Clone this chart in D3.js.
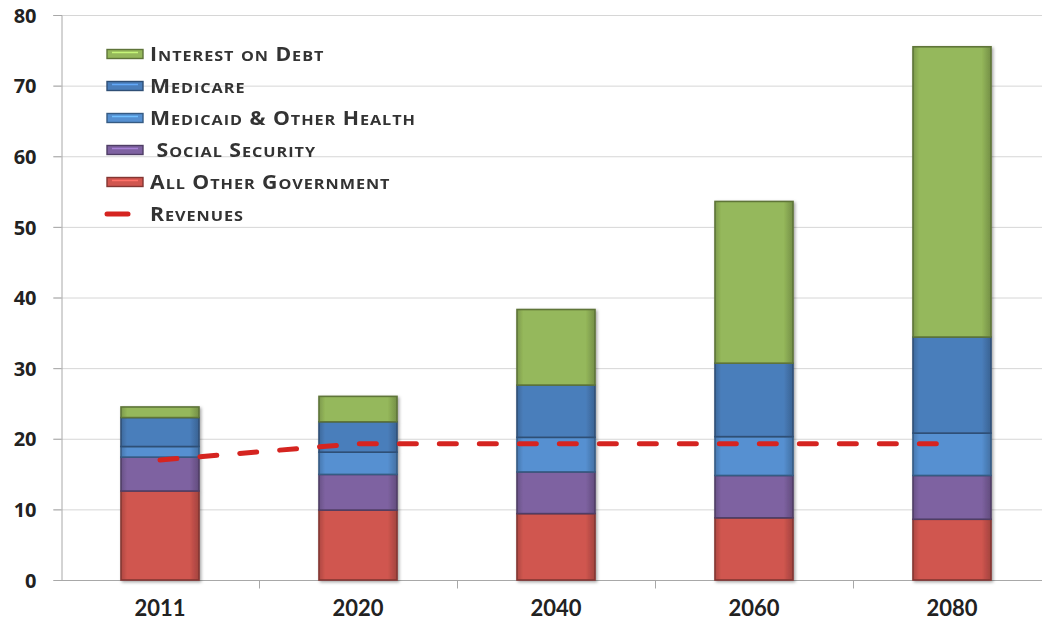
<!DOCTYPE html>
<html>
<head>
<meta charset="utf-8">
<script src="https://cdn.jsdelivr.net/npm/d3@7"></script>
<style>
  html, body { margin: 0; padding: 0; background: #ffffff; }
  svg { display: block; }
  .axis text { font-weight: 700; fill: #222222; }
  .legend text { font-family: "Open Sans", Lato, sans-serif; font-weight: 700; fill: #333333; white-space: pre; }
</style>
</head>
<body>
<svg id="chart" width="1042" height="632"></svg>
<script>
// Spending by category, % of GDP
const years = ["2011", "2020", "2040", "2060", "2080"];
const allOtherGovernment = [12.6, 9.9, 9.4, 8.8, 8.6];
const socialSecurity     = [4.8, 5.05, 5.9, 6.0, 6.2];
const medicaidOtherHealth = [1.5, 3.15, 4.9, 5.5, 6.0];
const medicare           = [4.1, 4.3, 7.4, 10.4, 13.6];
const interestOnDebt     = [1.5, 3.6, 10.7, 22.9, 41.1];
const revenues           = [17.0, 19.3, 19.3, 19.3, 19.3];
const yTicks = [0, 10, 20, 30, 40, 50, 60, 70, 80];

const seriesKeys = ["allOther", "socialSecurity", "medicaid", "medicare", "interest"];
const seriesLabels = {
  interest: "Interest on Debt",
  medicare: "Medicare",
  medicaid: "Medicaid & Other Health",
  socialSecurity: " Social Security",
  allOther: "All Other Government"
};
const colors = {
  allOther: "#d0564f",
  socialSecurity: "#7e62a1",
  medicaid: "#5690d1",
  medicare: "#4a7ebb",
  interest: "#95b85b"
};
const revenueColor = "#d52420";

const table = years.map((yr, i) => ({
  year: yr,
  allOther: allOtherGovernment[i],
  socialSecurity: socialSecurity[i],
  medicaid: medicaidOtherHealth[i],
  medicare: medicare[i],
  interest: interestOnDebt[i]
}));

const svg = d3.select("#chart");
const plotLeft = 61, plotRight = 1051, plotTop = 15, plotBottom = 580;

const x = d3.scaleBand().domain(years).range([plotLeft, plotRight]).paddingInner(0.606).paddingOuter(0.303);
const y = d3.scaleLinear().domain([0, 80]).range([plotBottom, plotTop]);

// Gridlines
svg.append("g")
  .selectAll("line")
  .data(yTicks.filter(t => t > 0))
  .join("line")
  .attr("x1", plotLeft - 8).attr("x2", 1042)
  .attr("y1", d => y(d) + 0.5).attr("y2", d => y(d) + 0.5)
  .attr("stroke", "#d6d6d6").attr("stroke-width", 1);

// Y axis
const yAxis = svg.append("g").attr("class", "axis")
  .attr("transform", `translate(${plotLeft + 0.5},0)`)
  .call(d3.axisLeft(y).tickValues(yTicks).tickSize(8).tickPadding(17));
yAxis.select(".domain").attr("stroke", "#a8a8a8");
yAxis.selectAll(".tick line").attr("stroke", "#a8a8a8");
yAxis.selectAll(".tick text")
  .attr("font-family", "'Open Sans', Lato, sans-serif")
  .attr("font-size", 20).attr("dy", "0.36em");

// X axis with ticks on category boundaries
const xAxisG = svg.append("g").attr("class", "axis")
  .attr("transform", `translate(0,${plotBottom + 0.5})`);
xAxisG.append("line").attr("x1", plotLeft).attr("x2", 1042).attr("stroke", "#a8a8a8");
xAxisG.selectAll("line.tk")
  .data(years.slice(1))
  .join("line").attr("class", "tk")
  .attr("x1", d => x(d) - x.step() * x.paddingInner() / 2 + 0.5)
  .attr("x2", d => x(d) - x.step() * x.paddingInner() / 2 + 0.5)
  .attr("y1", 0).attr("y2", 8)
  .attr("stroke", "#a8a8a8");
xAxisG.selectAll("text")
  .data(years)
  .join("text")
  .attr("x", d => x(d) + x.bandwidth() / 2)
  .attr("y", 35)
  .attr("text-anchor", "middle")
  .attr("font-family", "Lato, 'Open Sans', sans-serif")
  .attr("font-size", 22)
  .text(d => d);

// Shadow and soft highlight filters for bars
const defs = svg.append("defs");
const shadow = defs.append("filter").attr("id", "shadow").attr("x", "-10%").attr("y", "-10%").attr("width", "130%").attr("height", "130%");
shadow.append("feDropShadow").attr("dx", 1.5).attr("dy", 1.5).attr("stdDeviation", 1.5).attr("flood-color", "#000").attr("flood-opacity", 0.35);
const soft = defs.append("filter").attr("id", "soft");
soft.append("feGaussianBlur").attr("stdDeviation", 0.6);

seriesKeys.forEach(k => {
  const g = defs.append("linearGradient").attr("id", "grad-" + k).attr("x1", 0).attr("x2", 1).attr("y1", 0).attr("y2", 0);
  const c = d3.color(colors[k]);
  g.append("stop").attr("offset", "0%").attr("stop-color", c.darker(0.5));
  g.append("stop").attr("offset", "8%").attr("stop-color", c);
  g.append("stop").attr("offset", "88%").attr("stop-color", c);
  g.append("stop").attr("offset", "100%").attr("stop-color", c.darker(0.7));
});

const stacked = d3.stack().keys(seriesKeys)(table);

// Bar segments with bevel highlight
function bevelSegment(sel, k, xPos, yTop, w, h) {
  const c = d3.color(colors[k]);
  sel.append("rect")
    .attr("x", xPos).attr("y", yTop).attr("width", w).attr("height", h)
    .attr("fill", `url(#grad-${k})`)
    .attr("stroke", c.darker(1.3)).attr("stroke-width", 1.6);
  if (h > 7) {
    sel.append("line")
      .attr("x1", xPos + 5).attr("x2", xPos + w - 5)
      .attr("y1", yTop + 3.5).attr("y2", yTop + 3.5)
      .attr("stroke", c.brighter(0.8)).attr("stroke-width", 2.5)
      .attr("stroke-linecap", "round")
      .attr("filter", "url(#soft)");
  }
}

const barsG = svg.append("g").attr("filter", "url(#shadow)");
stacked.forEach(layer => {
  const k = layer.key;
  layer.forEach(d => {
    const yr = d.data.year;
    bevelSegment(barsG.append("g"), k, x(yr), y(d[1]), x.bandwidth(), y(d[0]) - y(d[1]));
  });
});

// Revenues line
const line = d3.line()
  .x((d, i) => x(years[i]) + x.bandwidth() / 2)
  .y(d => y(d));
svg.append("path")
  .datum(revenues)
  .attr("d", line)
  .attr("fill", "none")
  .attr("stroke", revenueColor)
  .attr("stroke-width", 5)
  .attr("stroke-dasharray", "17 23")
  .attr("stroke-linecap", "round");

// Legend text in small capitals: capitals stay full size, lower-case letters become smaller capitals
const capSize = 19, smallSize = 14.5;
function smallCaps(textSel, str) {
  const runs = [];
  for (const ch of str) {
    const isSmall = ch !== ch.toUpperCase();
    const last = runs[runs.length - 1];
    if (last && last.small === isSmall) last.text += ch;
    else runs.push({ small: isSmall, text: ch });
  }
  runs.forEach(r => {
    textSel.append("tspan")
      .attr("font-size", r.small ? smallSize : capSize)
      .text(r.small ? r.text.toUpperCase() : r.text);
  });
}

const legendOrder = ["interest", "medicare", "medicaid", "socialSecurity", "allOther"];
const legend = svg.append("g").attr("class", "legend");
const rowY = i => 54 + i * 32;
function legendText(label, i) {
  const t = legend.append("text")
    .attr("transform", `translate(150,${rowY(i) + 6.5}) scale(1.12,1)`)
    .attr("letter-spacing", 0.85);
  smallCaps(t, label);
}
legendOrder.forEach((k, i) => {
  const g = legend.append("g");
  const c = d3.color(colors[k]);
  g.append("rect")
    .attr("x", 107).attr("y", rowY(i) - 4.5).attr("width", 36).attr("height", 9)
    .attr("fill", c).attr("stroke", c.darker(1.3)).attr("stroke-width", 1.4);
  g.append("line")
    .attr("x1", 112).attr("x2", 138).attr("y1", rowY(i) - 1.5).attr("y2", rowY(i) - 1.5)
    .attr("stroke", c.brighter(0.8)).attr("stroke-width", 1.5);
  legendText(seriesLabels[k], i);
});
legend.append("line")
  .attr("x1", 107).attr("x2", 128).attr("y1", rowY(5)).attr("y2", rowY(5))
  .attr("stroke", revenueColor).attr("stroke-width", 5).attr("stroke-linecap", "round");
legendText("Revenues", 5);
</script>
</body>
</html>
